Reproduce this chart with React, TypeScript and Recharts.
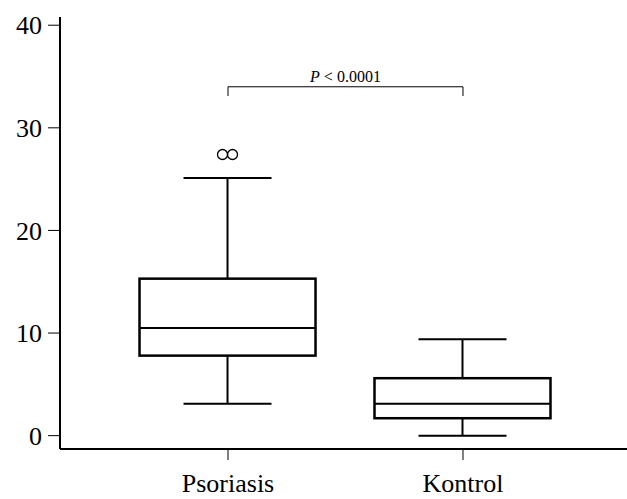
import { ComposedChart, Bar, XAxis, YAxis, ReferenceLine } from "recharts"

// box plot summary per group
const categories = ["Psoriasis", "Kontrol"]
const positions = [1, 2]
const minimum = [3.1, 0.0]
const lowerQuartile = [7.8, 1.7]
const median = [10.5, 3.1]
const upperQuartile = [15.3, 5.6]
const maximum = [25.1, 9.4]
const outliers = [[27.4, 27.4], []]

const yTicks = [0, 10, 20, 30, 40]
const pText = "< 0.0001"
const bracketTop = 34
const bracketFoot = 33.1

const data = categories.map((name, i) => ({
  name,
  pos: positions[i],
  box: [lowerQuartile[i], upperQuartile[i]],
  min: minimum[i],
  median: median[i],
  max: maximum[i],
  outliers: outliers[i],
}))

const font = "'Liberation Serif', 'Times New Roman', serif"

function BoxShape(props: any) {
  const { x, y, width, height, payload } = props
  const [lo, hi] = payload.box
  const ppu = height / (hi - lo)
  const toY = (v: number) => y + (hi - v) * ppu
  const cx = x + width / 2
  const cap = width / 4
  const n = payload.outliers.length
  return (
    <g stroke="#000" fill="none">
      <line x1={cx} x2={cx} y1={toY(payload.max)} y2={y} strokeWidth={2} />
      <line x1={cx} x2={cx} y1={y + height} y2={toY(payload.min)} strokeWidth={2} />
      <line x1={cx - cap} x2={cx + cap} y1={toY(payload.max)} y2={toY(payload.max)} strokeWidth={2} />
      <line x1={cx - cap} x2={cx + cap} y1={toY(payload.min)} y2={toY(payload.min)} strokeWidth={2} />
      <rect x={x} y={y} width={width} height={height} strokeWidth={2.5} fill="#fff" />
      <line x1={x} x2={x + width} y1={toY(payload.median)} y2={toY(payload.median)} strokeWidth={2} />
      {payload.outliers.map((v: number, j: number) => (
        <circle key={j} cx={cx + (j - (n - 1) / 2) * 10} cy={toY(v)} r={5} strokeWidth={1.3} />
      ))}
    </g>
  )
}

function PLabel(props: any) {
  const { viewBox } = props
  return (
    <text
      x={viewBox.x + viewBox.width / 2}
      y={viewBox.y - 5}
      textAnchor="middle"
      fontFamily={font}
      fontSize={16}
      fill="#000"
    >
      <tspan fontStyle="italic">P</tspan> {pText}
    </text>
  )
}

export default function App() {
  return (
    <div style={{ position: "absolute", left: 0, top: 0, background: "#fff" }}>
      <ComposedChart width={627} height={499} data={data} margin={{ top: 17, right: 0, bottom: 0, left: 0 }}>
        <XAxis
          dataKey="pos"
          type="number"
          domain={[0.285, 2.698]}
          ticks={positions}
          tickFormatter={(v: number) => categories[positions.indexOf(v)]}
          allowDataOverflow
          height={50}
          tickSize={11}
          tickMargin={14}
          axisLine={{ stroke: "#000", strokeWidth: 2 }}
          tickLine={{ stroke: "#000", strokeWidth: 1 }}
          tick={{ fill: "#000", fontFamily: font, fontSize: 26 }}
        />
        <YAxis
          type="number"
          domain={[-1.3, 40.8]}
          ticks={yTicks}
          allowDataOverflow
          width={60}
          tickSize={12}
          tickMargin={6}
          axisLine={{ stroke: "#000", strokeWidth: 2 }}
          tickLine={{ stroke: "#000", strokeWidth: 1 }}
          tick={{ fill: "#000", fontFamily: font, fontSize: 26 }}
        />
        <Bar dataKey="box" barSize={176} shape={<BoxShape />} isAnimationActive={false} />
        <ReferenceLine
          segment={[{ x: positions[0], y: bracketTop }, { x: positions[1], y: bracketTop }]}
          stroke="#000"
          strokeWidth={1}
          label={<PLabel />}
        />
        <ReferenceLine
          segment={[{ x: positions[0], y: bracketTop }, { x: positions[0], y: bracketFoot }]}
          stroke="#000"
          strokeWidth={1}
        />
        <ReferenceLine
          segment={[{ x: positions[1], y: bracketTop }, { x: positions[1], y: bracketFoot }]}
          stroke="#000"
          strokeWidth={1}
        />
      </ComposedChart>
    </div>
  )
}
